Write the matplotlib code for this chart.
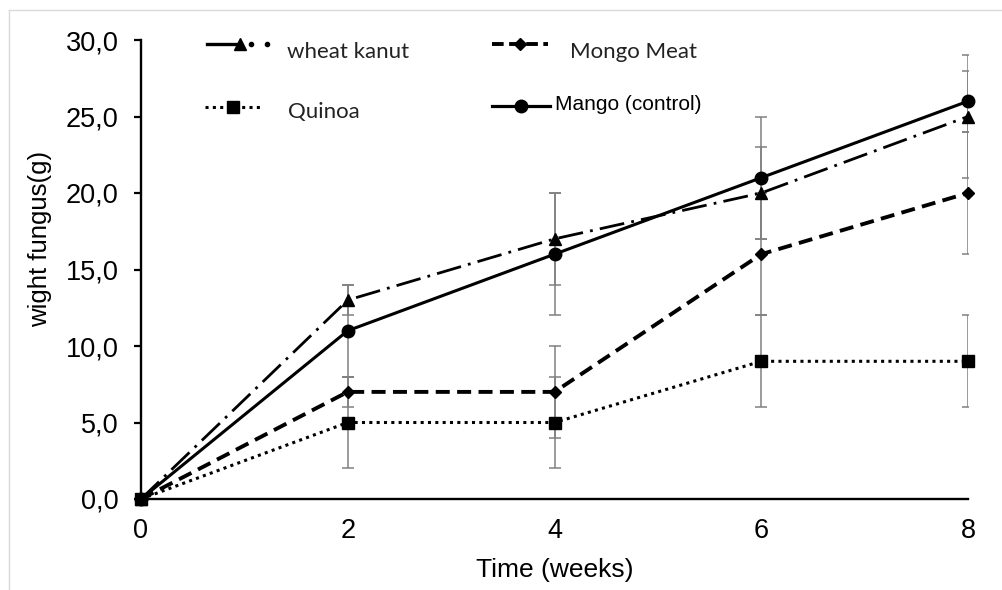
import matplotlib
matplotlib.use('Agg')
import matplotlib.pyplot as plt
from matplotlib.lines import Line2D

# ---- data ----
weeks = [0, 2, 4, 6, 8]
wheat = [0, 13, 17, 20, 25]
wheat_err = [0, 1, 3, 3, 4]
mongo = [0, 7, 7, 16, 20]
mongo_err = [0, 1, 3, 4, 4]
quinoa = [0, 5, 5, 9, 9]
quinoa_err = [0, 3, 3, 3, 3]
mango = [0, 11, 16, 21, 26]
mango_err = [0, 3, 4, 4, 2]
labels = ['wheat kanut', 'Mongo Meat', 'Quinoa', 'Mango (control)']
yticks = [0, 5, 10, 15, 20, 25, 30]
xticks = [0, 2, 4, 6, 8]

plt.rcParams['font.family'] = ['Liberation Sans', 'DejaVu Sans']

W, H = 1002, 590
fig = plt.figure(figsize=(W / 100, H / 100), dpi=100)
ax = fig.add_axes([141 / W, (H - 499) / H, 827 / W, 459 / H])

styles = [
    dict(ls=(0, (9, 2.6, 1.0, 2.6)), lw=2.0, marker='^', ms=9),
    dict(ls=(0, (3.6, 1.9)), lw=2.8, marker='D', ms=6.5),
    dict(ls=(0, (1.0, 1.4)), lw=2.2, marker='s', ms=8),
    dict(ls='-', lw=2.2, marker='o', ms=9),
]
series = [(wheat, wheat_err), (mongo, mongo_err), (quinoa, quinoa_err), (mango, mango_err)]

for (vals, err) in series:
    ax.errorbar(weeks[1:], vals[1:], yerr=err[1:], fmt='none', ecolor='#808080',
                elinewidth=1.1, capsize=4, capthick=1.1, zorder=2)

for (vals, err), st in zip(series, styles):
    ax.plot(weeks, vals, color='black', linestyle=st['ls'], lw=st['lw'],
            marker=st['marker'], ms=st['ms'], mfc='black', mec='black',
            clip_on=False, zorder=3)

ax.set_xlim(0, 8)
ax.set_ylim(0, 30)
ax.set_xticks(xticks)
ax.set_xticklabels([str(x) for x in xticks])
ax.set_yticks(yticks)
ax.set_yticklabels([f'{y:.1f}'.replace('.', ',') for y in yticks])
for s in ['top', 'right']:
    ax.spines[s].set_visible(False)
for s in ['left', 'bottom']:
    ax.spines[s].set_linewidth(1.7)
    ax.spines[s].set_color('black')
ax.tick_params(axis='y', length=5, width=1.6, pad=11, labelsize=19.5, colors='black')
ax.tick_params(axis='x', length=0, pad=14, labelsize=19.5, colors='black')

ax.set_xlabel('Time (weeks)', fontsize=19)
ax.xaxis.set_label_coords(0.5, -0.128)
ax.xaxis.label.set_verticalalignment('top')
ax.set_ylabel('wight fungus(g)', fontsize=18.5)
ax.yaxis.set_label_coords((40 - 141) / 827, (499 - 239) / 459)
ax.yaxis.label.set_verticalalignment('center')

# ---- overlay for legend and frame (pixel coordinates) ----
ov = fig.add_axes([0, 0, 1, 1], zorder=5)
ov.set_xlim(0, W)
ov.set_ylim(H, 0)
ov.axis('off')

# frame
ov.add_line(Line2D([9, 9], [10, H], color='#d9d9d9', lw=1))
ov.add_line(Line2D([9, W], [10, 10], color='#d9d9d9', lw=1))

# legend handles
ov.add_line(Line2D([207, 238], [44, 44], color='black', lw=2.4))
ov.add_line(Line2D([240], [44], color='black', marker='^', ms=8, ls='none'))
ov.add_line(Line2D([251, 267], [44, 44], color='black', ls='none', marker='o', ms=3))
ov.add_line(Line2D([492, 548], [44, 44], color='black', ls=(0, (3.0, 1.4)), lw=2.8))
ov.add_line(Line2D([520], [44], color='black', marker='D', ms=6.5, ls='none'))
ov.add_line(Line2D([205, 260], [107, 107], color='black', ls=(0, (1.0, 1.4)), lw=2.2))
ov.add_line(Line2D([233], [107], color='black', marker='s', ms=8, ls='none'))
ov.add_line(Line2D([492, 550], [106, 106], color='black', lw=2.3))
ov.add_line(Line2D([521], [106], color='black', marker='o', ms=9, ls='none'))

lfam = ['Lato', 'DejaVu Sans']
ov.text(287, 52, labels[0], fontsize=16, family=lfam, va='center', ha='left', color='#222222')
ov.text(570, 52, labels[1], fontsize=16, family=lfam, va='center', ha='left', color='#222222')
ov.text(288, 112, labels[2], fontsize=16, family=lfam, va='center', ha='left', color='#222222')
ov.text(555, 105, labels[3], fontsize=15, family=['Liberation Sans Narrow', 'Liberation Sans'],
        va='center', ha='left', color='black')

fig.savefig('out.png', dpi=100)
